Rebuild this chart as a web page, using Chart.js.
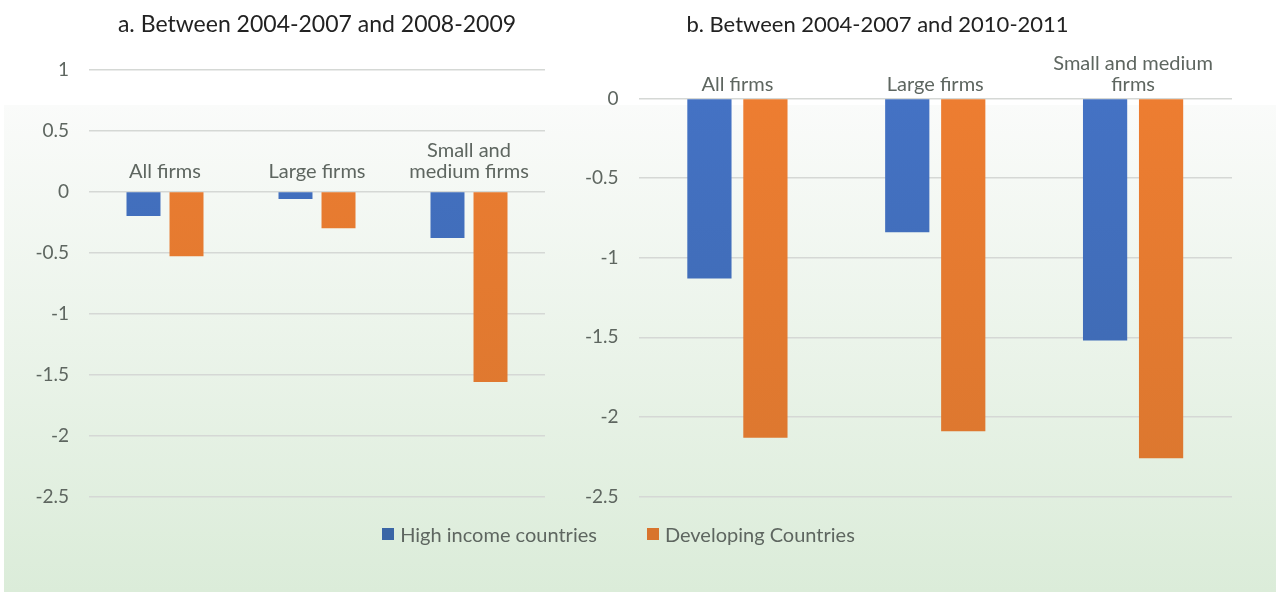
<!DOCTYPE html>
<html>
<head>
<meta charset="utf-8">
<title>Change in firm outcomes</title>
<script src="https://cdn.jsdelivr.net/npm/chart.js@4.4.1/dist/chart.umd.min.js"></script>
<style>
  html, body { margin: 0; padding: 0; background: #fff; }
  body { width: 1276px; height: 592px; position: relative; overflow: hidden; font-family: Lato, sans-serif; }
  #backdrop { position: absolute; left: 4px; top: 105px; right: 0; bottom: 0; background: linear-gradient(#fafbfa, #dbecd9); }
  .panel { position: absolute; top: 0; height: 528px; }
  #panelA { left: 0; width: 560px; }
  #panelB { left: 523px; width: 753px; }
  #legend { position: absolute; top: 522px; left: 0; width: 1237px; display: flex; justify-content: center; gap: 50px; font-size: 20px; line-height: 24px; color: #5e6660; }
  #legend span.item { display: flex; align-items: center; }
  #legend span.swatch { width: 12px; height: 12px; margin-right: 6px; display: inline-block; }
</style>
</head>
<body>
<div id="backdrop"></div>
<div class="panel" id="panelA"><canvas id="chartA"></canvas></div>
<div class="panel" id="panelB"><canvas id="chartB"></canvas></div>
<div id="legend"></div>

<script>
// Firm groups (line-wrapped as they appear above the zero line)
const categoriesA = [['All firms'], ['Large firms'], ['Small and', 'medium firms']];
const categoriesB = [['All firms'], ['Large firms'], ['Small and medium', 'firms']];

const seriesNames = ['High income countries', 'Developing Countries'];

// a. 2004-2007 vs 2008-2009
const highIncomeA = [-0.20, -0.06, -0.38];
const developingA = [-0.53, -0.30, -1.56];

// b. 2004-2007 vs 2010-2011
const highIncomeB = [-1.13, -0.84, -1.52];
const developingB = [-2.13, -2.09, -2.26];

const ticksA = [1, 0.5, 0, -0.5, -1, -1.5, -2, -2.5];
const ticksB = [0, -0.5, -1, -1.5, -2, -2.5];

const titleA = 'a. Between 2004-2007 and 2008-2009';
const titleB = 'b. Between 2004-2007 and 2010-2011';

const FONT = 'Lato, sans-serif';
const TEXT_GREY = '#5e6660';

// bars get a little darker towards the bottom of the plot
const shades = [
  ['#4472c4', '#3d68ae'],
  ['#ed7d31', '#db772f']
];
const legendShades = ['#3b66a6', '#d8742d'];

function fade(pair) {
  return (ctx) => {
    const area = ctx.chart.chartArea;
    if (!area) return pair[0];
    const g = ctx.chart.ctx.createLinearGradient(0, area.top, 0, area.bottom);
    g.addColorStop(0, pair[0]);
    g.addColorStop(1, pair[1]);
    return g;
  };
}

// Category names sit just above the zero line
const categoryLabels = {
  id: 'categoryLabels',
  afterDraw(chart, args, opts) {
    const { ctx, scales: { x, y } } = chart;
    const base = y.getPixelForValue(0) - opts.gap;
    ctx.save();
    ctx.font = `20px ${FONT}`;
    ctx.fillStyle = TEXT_GREY;
    ctx.textAlign = 'center';
    ctx.textBaseline = 'middle';
    chart.data.labels.forEach((lines, i) => {
      const cx = x.getPixelForValue(i);
      lines.forEach((line, j) => {
        ctx.fillText(line, cx, base - (lines.length - 1 - j) * opts.lineHeight);
      });
    });
    ctx.restore();
  }
};

function renderPanel(canvas, cfg) {
  return new Chart(canvas, {
    type: 'bar',
    data: {
      labels: cfg.labels,
      datasets: [
        { label: seriesNames[0], data: cfg.high, backgroundColor: fade(shades[0]) },
        { label: seriesNames[1], data: cfg.dev, backgroundColor: fade(shades[1]) }
      ]
    },
    options: {
      responsive: true,
      maintainAspectRatio: false,
      animation: false,
      layout: { padding: cfg.padding },
      datasets: { bar: { categoryPercentage: 0.566, barPercentage: 0.79 } },
      plugins: {
        legend: { display: false },
        tooltip: { enabled: false },
        title: {
          display: true,
          text: cfg.title,
          fullSize: cfg.titleFullSize,
          color: '#222',
          font: { family: FONT, size: cfg.titleSize, weight: 'normal' },
          padding: cfg.titlePadding
        },
        categoryLabels: { gap: cfg.labelGap, lineHeight: 21 }
      },
      scales: {
        x: { display: false },
        y: {
          min: cfg.ticks[cfg.ticks.length - 1],
          max: cfg.ticks[0],
          afterBuildTicks: (scale) => { scale.ticks = cfg.ticks.map(v => ({ value: v })); },
          afterFit: (scale) => { scale.width = cfg.axisWidth; },
          border: { display: false },
          grid: { color: '#d5d8d5', lineWidth: 1.5, drawTicks: false },
          ticks: {
            padding: 20,
            color: TEXT_GREY,
            font: { family: FONT, size: 19 },
            callback: (v) => String(v)
          }
        }
      }
    },
    plugins: [categoryLabels]
  });
}

function renderLegend() {
  const box = document.getElementById('legend');
  seriesNames.forEach((name, i) => {
    const item = document.createElement('span');
    item.className = 'item';
    const sw = document.createElement('span');
    sw.className = 'swatch';
    sw.style.background = legendShades[i];
    item.appendChild(sw);
    item.appendChild(document.createTextNode(name));
    box.appendChild(item);
  });
}

// left panel: title centred over the plot area
renderPanel(document.getElementById('chartA'), {
  labels: categoriesA, high: highIncomeA, dev: developingA, ticks: ticksA, title: titleA,
  titleFullSize: false, titleSize: 23,
  padding: { left: 0, right: 15, bottom: 23 },
  titlePadding: { top: 11, bottom: 31 },
  axisWidth: 89, labelGap: 20
});

// right panel: title centred over the whole canvas
renderPanel(document.getElementById('chartB'), {
  labels: categoriesB, high: highIncomeB, dev: developingB, ticks: ticksB, title: titleB,
  titleFullSize: true, titleSize: 22,
  padding: { left: 0, right: 44, bottom: 23 },
  titlePadding: { top: 12, bottom: 60 },
  axisWidth: 115.5, labelGap: 14
});

renderLegend();
</script>
</body>
</html>
